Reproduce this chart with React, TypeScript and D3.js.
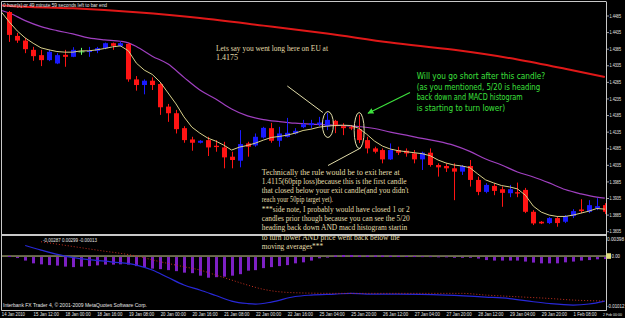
import React from "react";
import * as d3 from "d3";

// ---- Candles (EURUSD H4) ----
const opens = [1.4497,1.4425,1.4411,1.4383,1.4367,1.4352,1.4342,1.4368,1.4362,1.4377,
1.4378,1.4380,1.4388,1.4403,1.4395,1.4401,1.4294,1.4277,1.4290,1.4280,
1.4212,1.4192,1.4147,1.4113,1.4103,1.4111,1.4094,1.4089,1.4061,1.4049,
1.4101,1.4095,1.4119,1.4147,1.4109,1.4121,1.4131,1.4150,1.4156,1.4158,
1.4153,1.4169,1.4153,1.4150,1.4144,1.4111,1.4086,1.4081,1.4053,1.4081,
1.4079,1.4071,1.4053,1.4073,1.4036,1.4033,1.4026,1.4016,1.4033,1.3991,
1.3955,1.3973,1.3963,1.3951,1.3954,1.3961,1.3895,1.3865,1.3861,1.3876,
1.3865,1.3882,1.3902,1.3895,1.3906,1.3915];
const highs = [1.4500,1.4434,1.4419,1.4392,1.4383,1.4383,1.4373,1.4383,1.4391,1.4389,
1.4392,1.4392,1.4405,1.4405,1.4408,1.4403,1.4304,1.4294,1.4300,1.4284,
1.4220,1.4202,1.4153,1.4121,1.4111,1.4121,1.4111,1.4106,1.4076,1.4141,
1.4106,1.4131,1.4151,1.4163,1.4151,1.4178,1.4147,1.4172,1.4172,1.4181,
1.4193,1.4172,1.4162,1.4156,1.4187,1.4121,1.4091,1.4086,1.4101,1.4091,
1.4086,1.4081,1.4076,1.4086,1.4041,1.4041,1.4041,1.4036,1.4051,1.4001,
1.3981,1.3981,1.3971,1.3976,1.3983,1.3967,1.3900,1.3867,1.3879,1.3882,
1.3885,1.3903,1.3933,1.3930,1.3936,1.3921];
const lows = [1.4407,1.4404,1.4373,1.4350,1.4334,1.4349,1.4340,1.4332,1.4361,1.4368,
1.4362,1.4373,1.4385,1.4383,1.4392,1.4287,1.4260,1.4249,1.4262,1.4187,
1.4166,1.4131,1.4103,1.4079,1.4101,1.4063,1.4076,1.4026,1.4026,1.4029,
1.4061,1.4091,1.4116,1.4103,1.4091,1.4119,1.4128,1.4147,1.4147,1.4153,
1.4141,1.4132,1.4126,1.4141,1.4102,1.4071,1.4071,1.4041,1.4051,1.4066,
1.4061,1.4041,1.4021,1.4031,1.4001,1.4015,1.3930,1.4006,1.3971,1.3945,
1.3951,1.3945,1.3910,1.3939,1.3939,1.3891,1.3855,1.3858,1.3858,1.3850,
1.3861,1.3876,1.3891,1.3891,1.3900,1.3888];
const closes = [1.4428,1.4411,1.4385,1.4364,1.4352,1.4377,1.4367,1.4362,1.4383,1.4377,
1.4380,1.4388,1.4403,1.4395,1.4403,1.4294,1.4277,1.4290,1.4277,1.4210,
1.4192,1.4144,1.4111,1.4103,1.4109,1.4089,1.4090,1.4059,1.4051,1.4099,
1.4091,1.4121,1.4148,1.4109,1.4131,1.4133,1.4139,1.4159,1.4162,1.4164,
1.4172,1.4153,1.4147,1.4146,1.4111,1.4086,1.4076,1.4053,1.4081,1.4073,
1.4071,1.4053,1.4073,1.4036,1.4029,1.4026,1.4016,1.4033,1.3991,1.3955,
1.3976,1.3958,1.3952,1.3963,1.3950,1.3895,1.3860,1.3860,1.3876,1.3861,
1.3882,1.3897,1.3897,1.3915,1.3912,1.3895];

// ---- Moving averages ----
const ma5Idx = d3.range(-1, 76);
const ma5 = [1.4497,
1.4467,1.4440,1.4419,1.4403,1.4389,1.4383,1.4378,1.4376,1.4376,1.4380,
1.4380,1.4383,1.4387,1.4392,1.4395,1.4380,1.4343,1.4322,1.4309,1.4286,
1.4253,1.4220,1.4181,1.4150,1.4132,1.4117,1.4108,1.4096,1.4081,1.4090,
1.4095,1.4102,1.4111,1.4119,1.4122,1.4126,1.4132,1.4140,1.4144,1.4150,
1.4153,1.4155,1.4156,1.4155,1.4147,1.4129,1.4108,1.4093,1.4084,1.4079,
1.4076,1.4073,1.4070,1.4064,1.4051,1.4042,1.4036,1.4033,1.4028,1.4009,
1.3991,1.3982,1.3974,1.3970,1.3964,1.3945,1.3912,1.3894,1.3885,1.3881,
1.3881,1.3885,1.3891,1.3897,1.3905,1.3903];
const ma20Idx = [-1,0,2,4,6,8,10,12,14,15,16,18,20,22,24,26,28,30,32,34,36,38,40,42,44,46,48,50,52,54,56,58,60,62,64,66,68,70,72,74,75];
const ma20 = [1.4502,1.4494,1.4471,1.4453,1.4441,1.4431,1.4419,1.4413,1.4409,1.4404,1.4393,1.4364,1.4340,1.4300,1.4262,1.4235,1.4205,1.4184,1.4173,1.4167,1.4162,1.4159,1.4157,1.4155,1.4152,1.4146,1.4135,1.4126,1.4116,1.4107,1.4095,1.4077,1.4054,1.4036,1.4015,1.4000,1.3982,1.3962,1.3949,1.3939,1.3936];
const ma100Idx = [-1,0,8,16,24,32,40,48,56,64,70,75];
const ma100 = [1.4517,1.4515,1.4508,1.4496,1.4479,1.4456,1.4432,1.4405,1.4383,1.4354,1.4326,1.4301];

// ---- MACD window ----
const macdHist = [0,-0.0004,-0.0009,-0.00145,-0.00165,-0.0018,-0.0019,-0.0021,-0.0022,-0.0021,
-0.0020,-0.00185,-0.0017,-0.0017,-0.00165,-0.0017,-0.0020,-0.0022,-0.0025,-0.0026,
-0.0028,-0.0030,-0.0033,-0.0034,-0.0039,-0.0043,-0.0042,-0.0041,-0.0039,-0.0036,
-0.0029,-0.0028,-0.0024,-0.0022,-0.0020,-0.0018,-0.00145,-0.00125,-0.0009,-0.00045,
-0.00015,0.0001,0.0002,0.0002,0.0001,0.0001,0.0001,0.0001,0.00005,0.00005,
0,0,-0.00005,-0.00005,-0.0001,-0.0001,-0.0002,-0.0003,-0.0003,-0.0005,
-0.0008,-0.0009,-0.0009,-0.0009,-0.0009,-0.0011,-0.0013,-0.00145,-0.00145,-0.00145,
-0.00125,-0.0011,-0.0009,-0.0008,-0.00065,-0.0006];
const blueIdx = [2,4,7,10,13,16,18,20,22,24,26,28,30,31,33,36,38,41,43,45,49,55,60,63,66,68,71,73,75];
const blueLine = [0.00209,0.00119,0,-0.00070,-0.00119,-0.00179,-0.00278,-0.00427,-0.00576,-0.00675,-0.00784,-0.00894,-0.00943,-0.00953,-0.00914,-0.00804,-0.00775,-0.00755,-0.00741,-0.00755,-0.00755,-0.00775,-0.00814,-0.00844,-0.00908,-0.00943,-0.00973,-0.00953,-0.00894];
const redIdx = [4,11,16,19,22,24,26,28,30,32,36,41,49,57,60,64,68,71,75];
const redLine = [0.00284,0.00119,0,-0.00113,-0.00213,-0.00278,-0.00377,-0.00477,-0.00576,-0.00661,-0.00729,-0.00741,-0.00741,-0.00741,-0.00775,-0.00809,-0.00842,-0.00874,-0.00894];

// ---- Axis labels ----
const priceTicks = [1.4485,1.4435,1.4385,1.4335,1.4285,1.4235,1.4185,1.4135,1.4085,1.4035,1.3985,1.3935,1.3885,1.3835];
const timeLabels = ["14 Jan 2010","15 Jan 12:00","18 Jan 00:00","18 Jan 16:00","19 Jan 08:00","20 Jan 00:00","20 Jan 16:00","21 Jan 08:00","22 Jan 00:00","22 Jan 16:00","25 Jan 04:00","25 Jan 20:00","26 Jan 12:00","27 Jan 04:00","27 Jan 20:00","28 Jan 12:00","29 Jan 04:00","29 Jan 20:00","1 Feb 08:00","2 Feb 00:00"];
const macdTop = 0.00398;
const macdBottom = -0.01012;
const macdValuesText = "-0.00287 0.00299 -0.00013";
const headerText = "0 hour(s) or 49 minute 59 seconds left to bar end";
const footerText = "Interbank FX Trader 4, \u00A9 2001-2009 MetaQuotes Software Corp.";

const note1 = ["Lets say you went long here on EU at", "1.4175"];
const note1W = [112, 22];
const note2 = [
  "Technically the rule would be to exit here at",
  "1.4115(60pip loss)because this is the first candle",
  "that closed below your exit candle(and you didn't",
  "reach your 50pip target yet).",
  "***side note, I probably would have closed 1 or 2",
  "candles prior though because you can see the 5/20",
  "heading back down AND macd histogram startin",
  "to turn lower AND price went back below the",
  "moving averages***",
];
const note2W = [138, 145, 147, 71.5, 148, 148, 145.5, 138, 61.5];
const greenNote = [
  "Will you go short after this candle?",
  "(as you mentioned, 5/20 is heading",
  "back down and MACD histogram",
  "is starting to turn lower)",
];
const greenW = [128.5, 123.5, 106, 88.5];

export default function App() {
  const xS = d3.scaleLinear().domain([0, 75]).range([9.3, 604.8]);
  const yP = d3.scaleLinear().domain([1.4485, 1.3835]).range([16, 231.7]);
  const yM = d3.scaleLinear().domain([macdTop, macdBottom]).range([236, 307]);

  const RED = "#ff1414";
  const BLUE = "#1a1aff";
  const GRID = "#c8c8c8";
  const PALE = "#e2ddaa";
  const AX = "Liberation Sans, Arial, sans-serif";

  const lineFrom = (idx: number[], vals: number[], ys: (v: number) => number, curve: any) =>
    d3.line<number>().x((_, k) => xS(idx[k])).y((v) => ys(v)).curve(curve)(vals) || "";

  const candles = opens.map((o, i) => {
    const c = closes[i];
    const col = c > o ? BLUE : c < o ? RED : "#66ff66";
    const cx = Math.round(xS(i)) + 0.5;
    const yTop = yP(Math.max(o, c));
    const yBot = yP(Math.min(o, c));
    return (
      <g key={i}>
        <line x1={cx} x2={cx} y1={yP(highs[i])} y2={yP(lows[i])} stroke={col} strokeWidth={1} />
        {c === o ? (
          <line x1={cx - 3} x2={cx + 3} y1={yTop} y2={yTop} stroke={col} strokeWidth={1} />
        ) : (
          <rect x={cx - 2.5} y={yTop} width={5} height={Math.max(1.2, yBot - yTop)} fill={col} />
        )}
      </g>
    );
  });

  const zeroY = yM(0);
  const hist = macdHist.map((v, i) => {
    const cx = Math.round(xS(i)) + 0.5;
    const y0 = zeroY + 1;
    const y1 = yM(v);
    return (
      <rect key={i} x={cx - 1.5} y={Math.min(y0, y1)} width={3} height={Math.max(0.8, Math.abs(y1 - y0))} fill="#7d20c4" />
    );
  });

  const e1x = xS(40), e1y = yP(1.4158);
  const e2x = xS(44), e2y = yP(1.4140);

  return (
    <svg width={625} height={318} style={{ position: "absolute", left: 0, top: 0, display: "block", background: "#000" }}>
      <defs>
        <clipPath id="mainClip"><rect x={2} y={2} width={604} height={232} /></clipPath>
        <clipPath id="macdClip"><rect x={2} y={236} width={604} height={74} /></clipPath>
        <marker id="gArrow" viewBox="0 0 10 10" refX={9} refY={5} markerWidth={5} markerHeight={5} orient="auto">
          <path d="M0,0 L10,5 L0,10 z" fill="#3de13d" />
        </marker>
      </defs>
      <rect width={625} height={318} fill="#000" />

      {/* main window */}
      <g clipPath="url(#mainClip)">
        <path d={lineFrom(ma100Idx, ma100, yP, d3.curveMonotoneX)} fill="none" stroke="#e01818" strokeWidth={2} />
        <path d={lineFrom(ma20Idx, ma20, yP, d3.curveMonotoneX)} fill="none" stroke="#a040c0" strokeWidth={1.2} />
        {candles}
        <path d={lineFrom(ma5Idx, ma5, yP, d3.curveLinear)} fill="none" stroke="#d8d08a" strokeWidth={1} />
      </g>

      {/* macd window */}
      <g clipPath="url(#macdClip)">
        <line x1={2} x2={606} y1={zeroY} y2={zeroY} stroke="#cfcf95" strokeWidth={1} />
        {hist}
        <path d={lineFrom(blueIdx, blueLine, yM, d3.curveMonotoneX)} fill="none" stroke="#2828d8" strokeWidth={1.2} />
        <path d={lineFrom(redIdx, redLine, yM, d3.curveMonotoneX)} fill="none" stroke="#c83020" strokeWidth={1} strokeDasharray="1,2" />
      </g>

      {/* frame */}
      <line x1={1.5} x2={606} y1={1.5} y2={1.5} stroke={GRID} />
      <line x1={1.5} x2={1.5} y1={1.5} y2={310.5} stroke={GRID} />
      <line x1={606.5} x2={606.5} y1={1.5} y2={310.5} stroke={GRID} />
      <line x1={1.5} x2={606.5} y1={235} y2={235} stroke={GRID} strokeWidth={2.2} />
      <line x1={1.5} x2={606.5} y1={310.5} y2={310.5} stroke={GRID} />

      {/* price axis */}
      <g fontFamily={AX} fontSize={4.6} fill="#e6e6e6">
        {priceTicks.map((p) => (
          <g key={p}>
            <line x1={606.5} x2={609} y1={yP(p)} y2={yP(p)} stroke={GRID} strokeWidth={0.8} />
            <text x={609.5} y={yP(p) + 1.7} textLength={11.5} lengthAdjust="spacingAndGlyphs">{p.toFixed(4)}</text>
          </g>
        ))}
        <text x={607} y={yM(macdTop) + 4.5} textLength={17} lengthAdjust="spacingAndGlyphs">{macdTop.toFixed(5)}</text>
        <text x={607} y={yM(macdBottom) + 0.5} textLength={17.5} lengthAdjust="spacingAndGlyphs">{macdBottom.toFixed(5)}</text>
        <rect x={606.5} y={zeroY - 2.8} width={4.5} height={5.6} fill="#e3e07a" />
        <text x={611.5} y={zeroY + 1.7} textLength={8.5} lengthAdjust="spacingAndGlyphs">0.00</text>
      </g>

      {/* time axis */}
      <g fontFamily={AX} fontSize={5} fill="#e6e6e6">
        {timeLabels.map((t, k) => {
          const x0 = xS(-1 + 4 * k) + 0.5;
          const last = k === timeLabels.length - 1;
          return last ? (
            <text key={t} x={603} y={316} fontSize={4.2} textLength={19} lengthAdjust="spacingAndGlyphs">{t}</text>
          ) : (
            <text key={t} x={x0} y={316} textLength={t.length * 2.1} lengthAdjust="spacingAndGlyphs">{t}</text>
          );
        })}
      </g>

      {/* header / footer / indicator values */}
      <g fontFamily={AX} fontSize={5} fill="#e6e6e6">
        <text x={3} y={6.8} textLength={104} lengthAdjust="spacingAndGlyphs">{headerText}</text>
        <text x={3} y={307} textLength={144} lengthAdjust="spacingAndGlyphs">{footerText}</text>
        <text x={43} y={242} textLength={54} lengthAdjust="spacingAndGlyphs">{macdValuesText}</text>
      </g>

      {/* annotations */}
      <g fill="none" stroke={PALE} strokeWidth={1}>
        <ellipse cx={e1x + 1} cy={e1y} rx={5.5} ry={13} />
        <ellipse cx={e2x + 0.5} cy={e2y} rx={5} ry={18} />
        <line x1={287.3} y1={86} x2={e1x - 4} y2={e1y - 12} />
        <line x1={328} y1={165.5} x2={e2x + 2} y2={e2y + 17.5} />
      </g>
      <line x1={410} y1={92.5} x2={368} y2={113.3} stroke="#3de13d" strokeWidth={1.2} markerEnd="url(#gArrow)" />

      <g fontFamily="Liberation Serif, serif" fontSize={8.5} fill={PALE}>
        {note1.map((t, k) => (
          <text key={t} x={216} y={50.5 + k * 9} textLength={note1W[k]} lengthAdjust="spacingAndGlyphs">{t}</text>
        ))}
        {note2.map((t, k) => (
          <text key={t} x={261.7} y={174.5 + k * 9.3} textLength={note2W[k]} lengthAdjust="spacingAndGlyphs">{t}</text>
        ))}
      </g>
      <g fontFamily="DejaVu Sans, sans-serif" fontSize={8.5} fill="#3de13d">
        {greenNote.map((t, k) => (
          <text key={t} x={416.7} y={79 + k * 10.7} textLength={greenW[k]} lengthAdjust="spacingAndGlyphs">{t}</text>
        ))}
      </g>
    </svg>
  );
}
